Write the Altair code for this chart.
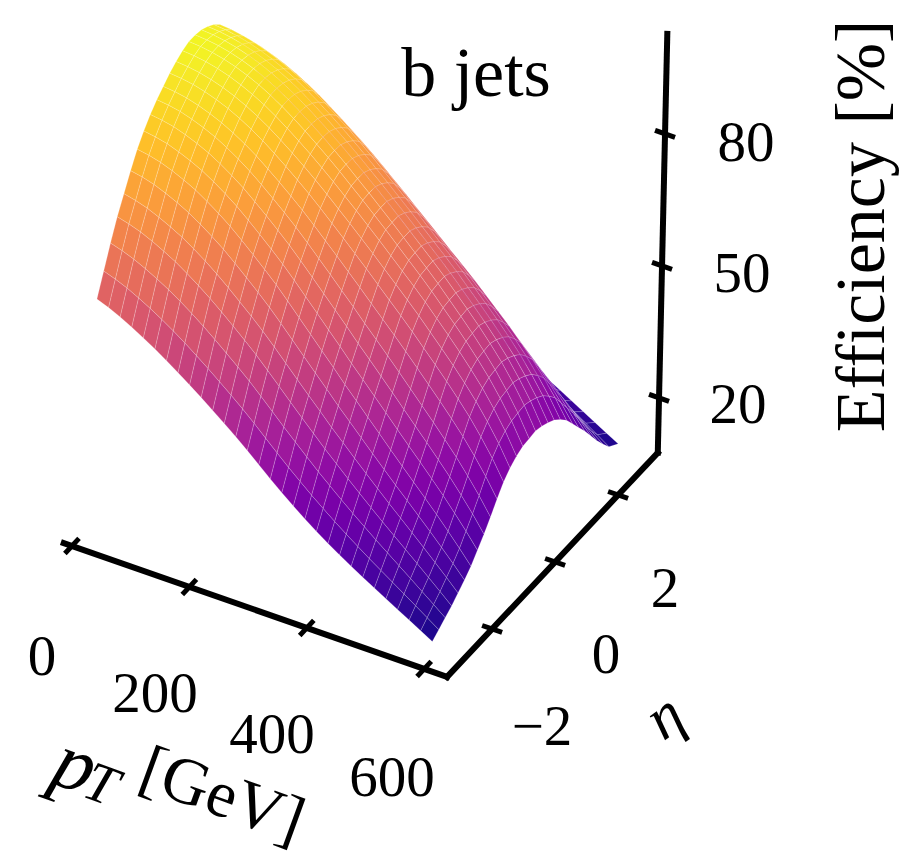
import altair as alt
import pandas as pd

# Grid of the surface
pt_grid = [0,20,40,60,80,100,120,140,160,180,200,220,240,260,280,300,320,340,360,380,400,420,440,460,480,500,520,540,560,580]
eta_grid = [-2.8,-2.6,-2.4,-2.2,-2.0,-1.8,-1.6,-1.4,-1.2,-1.0,-0.8,-0.6,-0.4,-0.2,0.0,0.2,0.4,0.6,0.8,1.0,1.2,1.4,1.6,1.8,2.0,2.2,2.4,2.6,2.8,3.1]
# Efficiency along the crest and along the edge of the surface
crest_eff = [96,95.8,95.4,94.8,94,93,91.8,90.4,88.8,87,85.1,83.1,81,78.8,76.5,74.2,71.8,69.4,66.9,64.4,61.9,59.3,56.5,53.7,50.8,47.7,44.4,40.6,36.4,31.5]
edge_eff = [58.8,57.8,56.6,55.2,53.7,52.1,50.4,48.6,46.7,44.8,42.8,40.8,38.7,36.5,34.2,31.9,29.7,27.6,25.6,23.7,21.9,20.2,18.6,17,15.5,14,12.5,11,9.5,8]
# Share of the crest height reached at each eta, at low and at high pT
low_profile = [0,.13,.26,.38,.48,.58,.67,.74,.80,.85,.89,.93,.96,.985,1,1,.99,.97,.94,.90,.84,.77,.68,.58,.48,.38,.27,.16,.08,0]
high_profile = [0,.05,.10,.15,.21,.27,.34,.43,.52,.62,.73,.83,.90,.95,.98,.99,1,.98,.95,.91,.85,.78,.68,.58,.48,.37,.26,.16,.07,0]
# How far each pT row has moved from the low-pT shape to the high-pT shape
high_share = [0,0,0,.01,.02,.03,.05,.07,.09,.12,.15,.18,.21,.25,.29,.33,.37,.41,.46,.5,.55,.6,.65,.7,.75,.8,.85,.9,.95,1]

pt_ticks = [0,200,400,600]
eta_ticks = [-2,0,2]
eff_ticks = [20,50,80]
pt_axis_ends = [-14,639]
eta_axis_ends = [-3.43,3.26]
eff_axis_ends = [7.5,102.7]

# Oblique view of the three axes
ORIGIN = (179.25,464.0)
PT_DIR = (0.587,0.205)
ETA_DIR = (31.5,-33.5)
EFF_DIR = (0.1,-4.4)

def view(pt,eta,eff):
    return (ORIGIN[0]+pt*PT_DIR[0]+eta*ETA_DIR[0]+eff*EFF_DIR[0],
            ORIGIN[1]+pt*PT_DIR[1]+eta*ETA_DIR[1]+eff*EFF_DIR[1])

def eff_at(i,j):
    s = high_share[i]
    share = (1-s)*low_profile[j]+s*high_profile[j]
    return edge_eff[i]+(crest_eff[i]-edge_eff[i])*share

features = []
for j in range(len(eta_grid)-2,-1,-1):
    for i in range(len(pt_grid)-1):
        corners = [(i,j),(i+1,j),(i+1,j+1),(i,j+1)]
        ring = [list(view(pt_grid[a],eta_grid[b],eff_at(a,b))) for a,b in corners]
        ring.append(ring[0])
        mean = sum(eff_at(a,b) for a,b in corners)/4
        features.append({"type":"Feature","geometry":{"type":"Polygon","coordinates":[ring]},"properties":{"eff":mean}})

surface = alt.Chart(alt.Data(values=features)).mark_geoshape(
    stroke="white",strokeWidth=0.6,strokeOpacity=0.3
).encode(
    color=alt.Color("properties.eff:Q",scale=alt.Scale(scheme="plasma",domain=[7,97]),legend=None)
).project(type="identity",scale=1,translate=[-8,-8])

X = alt.X("x:Q",scale=alt.Scale(domain=[8,900]),axis=None)
Y = alt.Y("y:Q",scale=alt.Scale(domain=[858,8]),axis=None)

rows = []
def seg(a,b,w):
    p,q = view(*a),view(*b)
    rows.append({"x":p[0],"y":p[1],"x2":q[0],"y2":q[1],"w":w})
pc,ec,zc = pt_axis_ends[1],eta_axis_ends[0],eff_axis_ends[0]
seg((pt_axis_ends[0],ec,zc),(pc,ec,zc),6)
seg((pc,eta_axis_ends[0],zc),(pc,eta_axis_ends[1],zc),6)
seg((pc,eta_axis_ends[1],eff_axis_ends[0]),(pc,eta_axis_ends[1],eff_axis_ends[1]),6)
for t in pt_ticks:
    seg((t,ec-0.17,zc),(t,ec+0.17,zc),5)
for t in eta_ticks:
    seg((pc-13,t,zc),(pc+13,t,zc),5)
for t in eff_ticks:
    seg((pc-13,eta_axis_ends[1],t),(pc+13,eta_axis_ends[1],t),5)
rules = alt.Chart(pd.DataFrame(rows)).mark_rule(color="black",strokeCap="square").encode(
    x=X,y=Y,x2="x2:Q",y2="y2:Q",strokeWidth=alt.StrokeWidth("w:Q",scale=None))

label_text = ["0","200","400","600","\u22122","0","2","20","50","80"]
label_x = [42,155,272,392,542,606,665,738,742,746]
label_y = [658,695,736,779,728,656,590,406,275,144]
labels = alt.Chart(pd.DataFrame({"t":label_text,"x":label_x,"y":label_y})).mark_text(
    font="Liberation Serif",fontSize=57,color="black",align="center",baseline="middle"
).encode(x=X,y=Y,text="t:N")

def word(t,x,y,size,angle=0,style="normal"):
    return alt.Chart(pd.DataFrame({"t":[t],"x":[x],"y":[y]})).mark_text(
        font="Liberation Serif",fontSize=size,angle=angle,fontStyle=style,color="black",align="center",baseline="middle"
    ).encode(x=X,y=Y,text="t:N")

title = word("b jets",476,75,70)
eff_title = word("Efficiency [%]",863,226,70,angle=270)
p_letter = word("p",75,766,80,angle=20,style="italic")
t_letter = word("T",101,785,56,angle=20,style="italic")
gev = word("[GeV]",222,796,66,angle=20)
eta_letter = word("\u03b7",665,717,62,angle=325,style="italic")

chart = alt.layer(surface,rules,labels,title,eff_title,p_letter,t_letter,gev,eta_letter).resolve_scale(
    color="independent"
).properties(width=892,height=850,padding=0,autosize=alt.AutoSizeParams(type="none")).configure_view(stroke=None)
chart.save("out.html",embed_options={"renderer":"svg","actions":False})
